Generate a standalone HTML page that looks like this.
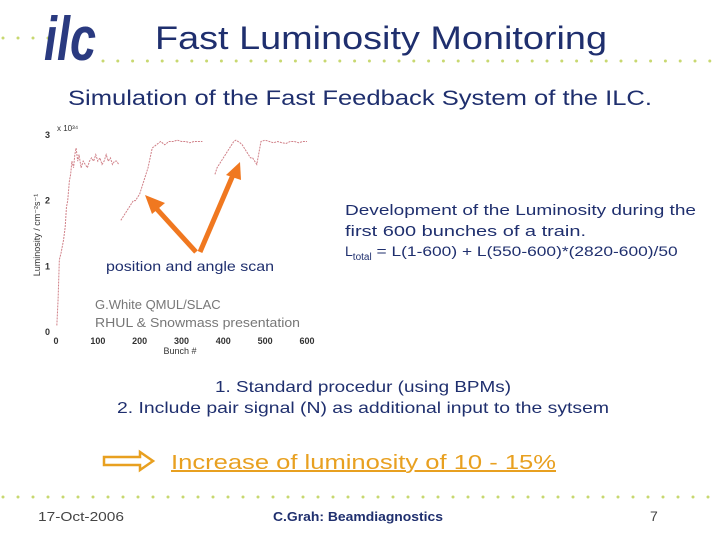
<!DOCTYPE html>
<html><head><meta charset="utf-8"><style>
body{margin:0;width:720px;height:540px;background:#fff;overflow:hidden;font-family:"Liberation Sans",sans-serif}
svg{position:absolute;left:0;top:0}
</style></head><body>
<svg width="720" height="540">
<g id="dots"></g>
<text x="44" y="60" font-size="62" font-weight="bold" font-style="italic" fill="#2a3a80" textLength="52" lengthAdjust="spacingAndGlyphs">ilc</text>
<text x="155" y="49" font-size="32" fill="#1f2f6e" textLength="452" lengthAdjust="spacingAndGlyphs">Fast Luminosity Monitoring</text>
<text x="68" y="105" font-size="21" fill="#1f2f6e" textLength="584" lengthAdjust="spacingAndGlyphs">Simulation of the Fast Feedback System of the ILC.</text>
<g id="chart"></g>
<g stroke="#f07820" stroke-width="5" fill="#f07820">
<line x1="196" y1="252" x2="155" y2="207"/><polygon points="145,195 165,203 152,214" stroke="none"/>
<line x1="200" y1="252" x2="233" y2="175"/><polygon points="240,162 241,180 226,175" stroke="none"/>
</g>
<text x="106" y="271" font-size="14" fill="#1f2f6e" textLength="168" lengthAdjust="spacingAndGlyphs">position and angle scan</text>
<text x="95" y="309" font-size="13" fill="#777">G.White QMUL/SLAC</text>
<text x="95" y="327" font-size="13" fill="#777" textLength="205" lengthAdjust="spacingAndGlyphs">RHUL &amp; Snowmass presentation</text>
<text x="345" y="215" font-size="15" fill="#1f2f6e" textLength="351" lengthAdjust="spacingAndGlyphs">Development of the Luminosity during the</text>
<text x="345" y="236" font-size="15" fill="#1f2f6e" textLength="241" lengthAdjust="spacingAndGlyphs">first 600 bunches of a train.</text>
<text x="345" y="256" font-size="14" fill="#1f2f6e">L<tspan font-size="10" dy="4">total</tspan><tspan dy="-4" textLength="306" lengthAdjust="spacingAndGlyphs"> = L(1-600) + L(550-600)*(2820-600)/50</tspan></text>
<text x="215" y="392" font-size="16" fill="#1f2f6e" textLength="296" lengthAdjust="spacingAndGlyphs">1.  Standard procedur (using BPMs)</text>
<text x="117" y="413" font-size="16" fill="#1f2f6e" textLength="492" lengthAdjust="spacingAndGlyphs">2.  Include pair signal (N) as additional input to the sytsem</text>
<g fill="none" stroke="#e8a020" stroke-width="2.5">
<path d="M104,457 H140 V452 L153,461 L140,470 V465 H104 Z"/></g>
<text x="171" y="469" font-size="20" fill="#e8a020" text-decoration="underline" textLength="385" lengthAdjust="spacingAndGlyphs">Increase of luminosity of 10 - 15%</text>
<text x="38" y="521" font-size="13" fill="#444" textLength="86" lengthAdjust="spacingAndGlyphs">17-Oct-2006</text>
<text x="273" y="521" font-size="13" font-weight="bold" fill="#1f2f6e" textLength="170" lengthAdjust="spacingAndGlyphs">C.Grah: Beamdiagnostics</text>
<text x="650" y="521" font-size="14" fill="#444">7</text>
</svg>
<script>
const bunches=[2,5,8,12,15,18,22,25,28,32,35,38,42,45,48,52,55,60,65,70,75,80,85,90,95,100,105,110,115,120,125,130,135,140,145,150];
const lumA=[0.1,0.5,1.1,1.2,1.3,1.4,1.6,1.9,2.0,2.3,2.4,2.6,2.5,2.7,2.8,2.6,2.7,2.5,2.6,2.55,2.5,2.6,2.65,2.6,2.7,2.6,2.65,2.55,2.6,2.7,2.6,2.65,2.55,2.6,2.6,2.55];
const bunchesB=[155,160,165,170,175,180,185,190,195,200,205,210,215,220,225,230,240,250,260,270,280,290,300,310,320,330,340,350];
const lumB=[1.7,1.75,1.8,1.85,1.9,1.95,2.0,2.0,2.05,2.1,2.2,2.3,2.4,2.5,2.65,2.8,2.85,2.9,2.85,2.9,2.9,2.92,2.9,2.9,2.88,2.9,2.9,2.9];
const bunchesC=[380,385,390,395,400,405,410,415,420,425,430,435,440,445,450,455,460,465,470,475,480,490,500,510,520,530,540,550,560,570,580,590,600];
const lumC=[2.4,2.5,2.55,2.6,2.65,2.7,2.75,2.8,2.85,2.9,2.92,2.9,2.88,2.85,2.8,2.75,2.7,2.65,2.65,2.6,2.55,2.9,2.92,2.9,2.88,2.9,2.88,2.87,2.9,2.9,2.88,2.9,2.9];
const xTicks=[0,100,200,300,400,500,600];
const yTicks=[0,1,2,3];
const NS='http://www.w3.org/2000/svg';
const X=b=>56+b*0.4183, Y=v=>332-v*65.7;
const ch=document.getElementById('chart');
function mk(t,a,p){const e=document.createElementNS(NS,t);for(const k in a)e.setAttribute(k,a[k]);(p||ch).appendChild(e);return e;}
[[bunches,lumA],[bunchesB,lumB],[bunchesC,lumC]].forEach((s,i)=>{
 const pts=s[0].map((b,j)=>X(b)+','+Y(s[1][j])).join(' ');
 const l=mk('polyline',{points:pts,fill:'none',stroke:'#d08088','stroke-width':1,'stroke-dasharray':'2 1'});
 
 
});
xTicks.forEach(t=>{const e=mk('text',{x:X(t),y:344,'font-size':9,'font-weight':'bold','text-anchor':'middle',fill:'#333'});e.textContent=t;
 
 });
yTicks.forEach(t=>{const e=mk('text',{x:50,y:Y(t)+3,'font-size':9,'font-weight':'bold','text-anchor':'end',fill:'#333'});e.textContent=t;
 
 });
let e=mk('text',{x:180,y:354,'font-size':9,'text-anchor':'middle',fill:'#333'});e.textContent='Bunch #';


e=mk('text',{x:0,y:0,'font-size':9,'text-anchor':'middle',fill:'#333',transform:'translate(40,235) rotate(-90)'});e.textContent='Luminosity / cm\u207B\u00B2s\u207B\u00B9';


e=mk('text',{x:57,y:131,'font-size':8,fill:'#333'});e.textContent='x 10\u00B3\u2074';


const d=document.getElementById('dots');
function dot(x,y){mk('circle',{cx:x,cy:y,r:1.5,fill:'#c8d870'},d);}
for(let x=3;x<50;x+=15)dot(x,38);
for(let x=103;x<720;x+=14.8)dot(x,61);
for(let x=3;x<720;x+=15)dot(x,497);
</script>
</body></html>
